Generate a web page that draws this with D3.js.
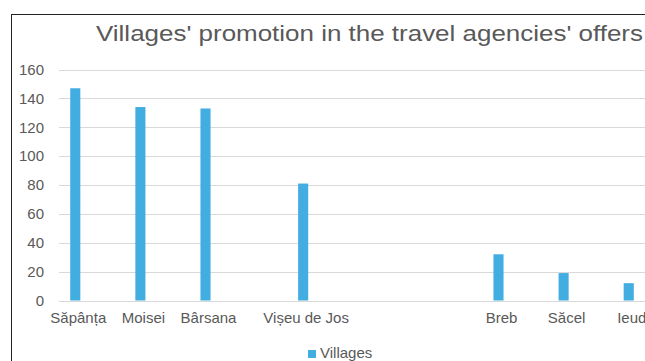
<!DOCTYPE html>
<html>
<head>
<meta charset="utf-8">
<script src="https://cdnjs.cloudflare.com/ajax/libs/d3/7.8.5/d3.min.js"></script>
<style>
  body { margin: 0; background: #fff; }
  svg { display: block; font-family: "Liberation Sans", Arial, sans-serif; }
</style>
</head>
<body>
<div class="chart"></div>
<script>
// categories (blank slots are empty categories in the original sheet)
var categories = ["Săpânța", "", "Moisei", "", "Bârsana", "", "", "Vișeu de Jos",
  "", "", "", "", "", "Breb", "", "Săcel", "", "Ieud"];
var values = [147, null, 134, null, 133, null, null, 81,
  null, null, null, null, null, 32, null, 19, null, 12];
var yTicks = [0, 20, 40, 60, 80, 100, 120, 140, 160];
var seriesName = "Villages";
var title = "Villages' promotion in the travel agencies' offers";

var fullWidth = 645, fullHeight = 361;
var plot = { left: 59, right: 645, top: 69.5, bottom: 300.5 };

var svg = d3.select(".chart")
  .append("svg")
  .attr("width", fullWidth)
  .attr("height", fullHeight);

// chart frame (right and bottom edges fall outside the picture)
svg.append("rect")
  .attr("x", 11.5)
  .attr("y", 14.5)
  .attr("width", 700)
  .attr("height", 400)
  .attr("fill", "#fff")
  .attr("stroke", "#222")
  .attr("stroke-width", 1);

svg.append("text")
  .attr("x", 96)
  .attr("y", 41)
  .attr("textLength", 547)
  .attr("lengthAdjust", "spacingAndGlyphs")
  .style("font-size", "22px")
  .style("fill", "#595959")
  .text(title);

var yScale = d3.scaleLinear()
  .domain([0, 160])
  .range([plot.bottom, plot.top]);

var xScale = d3.scaleBand()
  .domain(d3.range(categories.length))
  .range([plot.left, plot.right])
  .paddingInner(0.69)
  .paddingOuter(0.345);

// gridlines
svg.append("g")
  .selectAll("line")
  .data(yTicks)
  .enter()
  .append("line")
  .attr("x1", plot.left)
  .attr("x2", plot.right)
  .attr("y1", d => Math.round(yScale(d)) + 0.5)
  .attr("y2", d => Math.round(yScale(d)) + 0.5)
  .attr("stroke", "#d9d9d9")
  .attr("stroke-width", 1);

var yAxis = d3.axisLeft(yScale)
  .tickValues(yTicks)
  .tickSize(0)
  .tickPadding(15);

svg.append("g")
  .attr("transform", `translate(${plot.left}, 0)`)
  .call(yAxis)
  .call(g => g.select(".domain").remove())
  .selectAll("text")
  .style("font-size", "15px")
  .style("font-family", "Liberation Sans, Arial, sans-serif")
  .style("fill", "#595959");

var xAxis = d3.axisBottom(xScale)
  .tickSize(0)
  .tickPadding(12)
  .tickFormat(i => categories[i]);

svg.append("g")
  .attr("transform", `translate(3, ${plot.bottom})`)
  .call(xAxis)
  .call(g => g.select(".domain").remove())
  .selectAll("text")
  .style("font-size", "15px")
  .style("font-family", "Liberation Sans, Arial, sans-serif")
  .style("fill", "#595959");

svg.append("g")
  .selectAll("rect")
  .data(values.map((v, i) => ({ i: i, v: v })).filter(d => d.v !== null))
  .enter()
  .append("rect")
  .attr("x", d => xScale(d.i))
  .attr("y", d => yScale(d.v))
  .attr("width", xScale.bandwidth())
  .attr("height", d => plot.bottom - yScale(d.v))
  .style("fill", "#42ade1");

// legend
var legend = svg.append("g").attr("transform", "translate(308, 350)");
legend.append("rect")
  .attr("width", 8)
  .attr("height", 8)
  .style("fill", "#42ade1");
legend.append("text")
  .attr("x", 12)
  .attr("y", 7.5)
  .style("font-size", "15px")
  .style("fill", "#595959")
  .text(seriesName);
</script>
</body>
</html>
